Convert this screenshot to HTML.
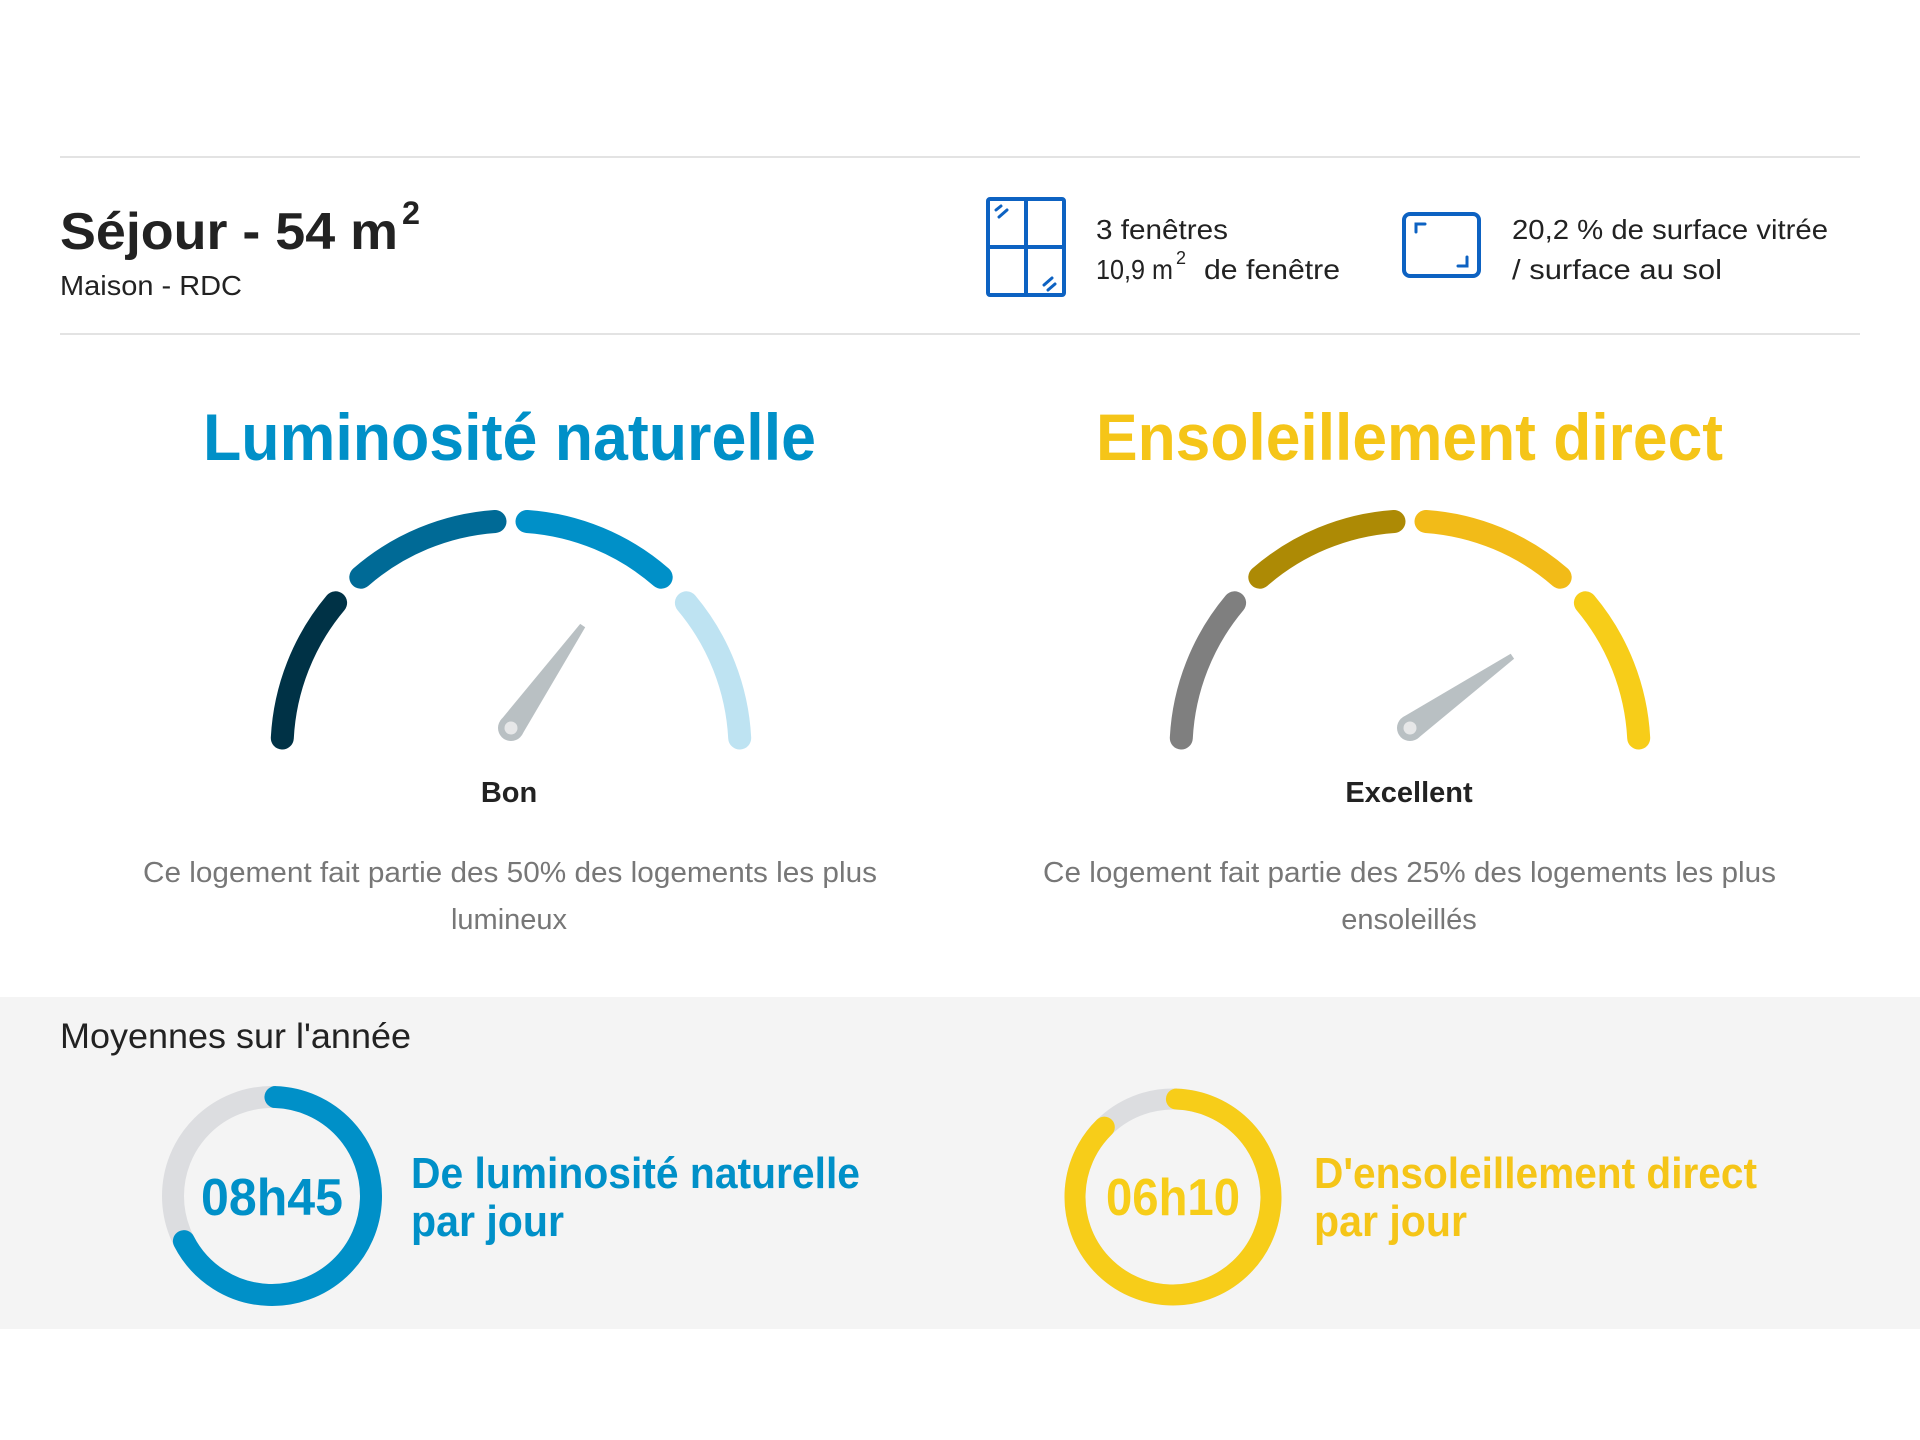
<!DOCTYPE html>
<html><head><meta charset="utf-8"><style>
html,body{margin:0;padding:0;background:#fff;}
svg{display:block;}
text{font-family:"Liberation Sans",sans-serif;}
</style></head><body>
<svg width="1920" height="1440" viewBox="0 0 1920 1440" xmlns="http://www.w3.org/2000/svg">
<rect width="1920" height="1440" fill="#fff"/>
<rect x="60" y="156" width="1800" height="2" fill="#e3e3e3"/>
<rect x="60" y="333" width="1800" height="2" fill="#e3e3e3"/>

<text x="60" y="249" font-size="52" font-weight="bold" fill="#222" textLength="338" lengthAdjust="spacingAndGlyphs">Séjour - 54 m</text>
<text x="402" y="224" font-size="32" font-weight="bold" fill="#222" textLength="18" lengthAdjust="spacingAndGlyphs">2</text>
<text x="60" y="295" font-size="28" fill="#222" textLength="182" lengthAdjust="spacingAndGlyphs">Maison - RDC</text>

<g fill="none" stroke="#0d62c2" stroke-width="4">
<rect x="988" y="199" width="76" height="96" rx="2"/>
<line x1="1026" y1="199" x2="1026" y2="295"/>
<line x1="988" y1="247" x2="1064" y2="247"/>
<rect x="1404" y="214" width="75" height="62" rx="6"/>
</g>
<g stroke="#0d62c2" stroke-width="3" stroke-linecap="round" fill="none">
<line x1="996" y1="210" x2="1001" y2="206"/><line x1="999" y1="217" x2="1007" y2="210"/>
<line x1="1044" y1="285" x2="1052" y2="278"/><line x1="1048" y1="290" x2="1055" y2="284"/>
<path d="M1416 232 V224 H1425"/><path d="M1458 266 H1467 V257"/>
</g>
<text x="1096" y="239" font-size="28" fill="#222" textLength="132" lengthAdjust="spacingAndGlyphs">3 fenêtres</text>
<text x="1096" y="279" font-size="28" fill="#222" textLength="77" lengthAdjust="spacingAndGlyphs">10,9 m</text>
<text x="1176" y="264" font-size="18" fill="#222">2</text>
<text x="1204" y="279" font-size="28" fill="#222" textLength="136" lengthAdjust="spacingAndGlyphs">de fenêtre</text>
<text x="1512" y="239" font-size="28" fill="#222" textLength="316" lengthAdjust="spacingAndGlyphs">20,2 % de surface vitrée</text>
<text x="1512" y="279" font-size="28" fill="#222" textLength="210" lengthAdjust="spacingAndGlyphs">/ surface au sol</text>

<text x="203" y="460" font-size="66" font-weight="bold" fill="#0090c8" textLength="613" lengthAdjust="spacingAndGlyphs">Luminosité naturelle</text>
<text x="1096" y="460" font-size="66" font-weight="bold" fill="#f5c518" textLength="627" lengthAdjust="spacingAndGlyphs">Ensoleillement direct</text>

<g fill="none" stroke-width="23" stroke-linecap="round">
<path d="M282.3 738 A229 229 0 0 1 335.6 602.8" stroke="#003246"/>
<path d="M360.8 577.2 A229 229 0 0 1 495 521.5" stroke="#006a96"/>
<path d="M527 521.5 A229 229 0 0 1 661.2 577.2" stroke="#0090c8"/>
<path d="M686.4 602.8 A229 229 0 0 1 739.7 738" stroke="#bee3f2"/>
<g transform="translate(899,0)">
<path d="M282.3 738 A229 229 0 0 1 335.6 602.8" stroke="#7f7f7f"/>
<path d="M360.8 577.2 A229 229 0 0 1 495 521.5" stroke="#ad8a05"/>
<path d="M527 521.5 A229 229 0 0 1 661.2 577.2" stroke="#f2bb18"/>
<path d="M686.4 602.8 A229 229 0 0 1 739.7 738" stroke="#f7cd19"/>
</g>
</g>
<g transform="translate(0,-4)">
<polygon points="521.6,739.5 500.4,724.5 580.2,627.9 585.2,631.3" fill="#b9c0c3"/>
<circle cx="511" cy="732" r="13" fill="#b9c0c3"/><circle cx="511" cy="732" r="6.5" fill="#e6e7e8"/>
<polygon points="1417.5,742.6 1402.5,721.4 1510.7,657.8 1514.1,662.8" fill="#b9c0c3"/>
<circle cx="1410" cy="732" r="13" fill="#b9c0c3"/><circle cx="1410" cy="732" r="6.5" fill="#e6e7e8"/>
</g>

<text x="509" y="802" font-size="29" font-weight="bold" fill="#222" text-anchor="middle">Bon</text>
<text x="1409" y="802" font-size="29" font-weight="bold" fill="#222" text-anchor="middle">Excellent</text>
<text x="143" y="882" font-size="29" fill="#777" textLength="734" lengthAdjust="spacingAndGlyphs">Ce logement fait partie des 50% des logements les plus</text>
<text x="509" y="929" font-size="29" fill="#777" text-anchor="middle">lumineux</text>
<text x="1043" y="882" font-size="29" fill="#777" textLength="733" lengthAdjust="spacingAndGlyphs">Ce logement fait partie des 25% des logements les plus</text>
<text x="1409" y="929" font-size="29" fill="#777" text-anchor="middle">ensoleillés</text>

<rect x="0" y="997" width="1920" height="332" fill="#f4f4f4"/>
<text x="60" y="1048" font-size="35" fill="#222" textLength="351" lengthAdjust="spacingAndGlyphs">Moyennes sur l'année</text>

<circle cx="272" cy="1196" r="99" fill="none" stroke="#dcdde0" stroke-width="22"/>
<circle cx="272" cy="1196" r="99" fill="none" stroke="#0090c8" stroke-width="22" stroke-linecap="round" stroke-dasharray="416 1000" transform="rotate(-88 272 1196)"/>
<text x="272" y="1215" font-size="52" font-weight="bold" fill="#0090c8" text-anchor="middle" textLength="142" lengthAdjust="spacingAndGlyphs">08h45</text>
<text x="411" y="1188" font-size="44" font-weight="bold" fill="#0090c8" textLength="449" lengthAdjust="spacingAndGlyphs">De luminosité naturelle</text>
<text x="411" y="1236" font-size="44" font-weight="bold" fill="#0090c8" textLength="153" lengthAdjust="spacingAndGlyphs">par jour</text>

<circle cx="1173" cy="1197" r="98" fill="none" stroke="#dcdde0" stroke-width="21"/>
<circle cx="1173" cy="1197" r="98" fill="none" stroke="#f7cd19" stroke-width="21" stroke-linecap="round" stroke-dasharray="536 1000" transform="rotate(-88 1173 1197)"/>
<text x="1173" y="1215" font-size="52" font-weight="bold" fill="#f7cd19" text-anchor="middle" textLength="134" lengthAdjust="spacingAndGlyphs">06h10</text>
<text x="1314" y="1188" font-size="44" font-weight="bold" fill="#f5c518" textLength="443" lengthAdjust="spacingAndGlyphs">D'ensoleillement direct</text>
<text x="1314" y="1236" font-size="44" font-weight="bold" fill="#f5c518" textLength="153" lengthAdjust="spacingAndGlyphs">par jour</text>
</svg>
</body></html>
